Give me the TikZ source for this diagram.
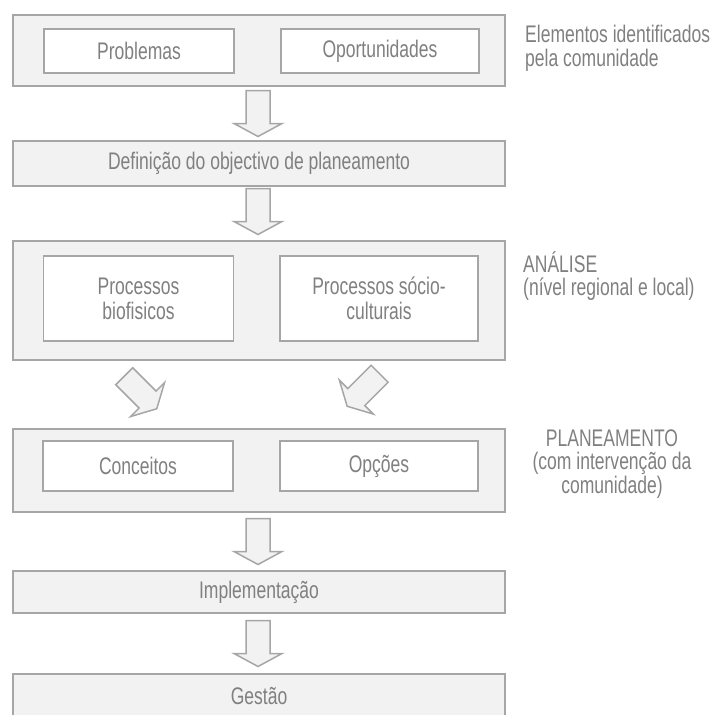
\documentclass[tikz,border=0pt]{standalone}
\usepackage{fontspec}
\setmainfont[FakeStretch=0.73]{Liberation Sans}
\usetikzlibrary{calc}
\definecolor{linec}{HTML}{A6A6A6}
\definecolor{boxfill}{HTML}{F2F2F2}
\definecolor{textc}{HTML}{808080}
\tikzset{
  base/.style={draw=linec, line width=1.5pt, inner sep=0pt, align=center,
    text=textc, font=\fontsize{24}{25}\selectfont},
  outer/.style={base, fill=boxfill},
  inner/.style={base, fill=white},
  note/.style={inner sep=0pt, text=textc, font=\fontsize{24}{23.5}\selectfont},
  arrowstyle/.style={draw=linec, fill=boxfill, line width=1.5pt, line join=miter},
  blockarrow/.pic={
    \path[arrowstyle] (-12,23) -- (12,23) -- (12,-10) -- (24,-10) -- (0,-23)
      -- (-24,-10) -- (-12,-10) -- cycle;
  }
}
\begin{document}
\begin{tikzpicture}[x=1pt, y=1pt]
  \useasboundingbox (0,0) rectangle (712,-715);
  \clip (0,0) rectangle (712,-715);

  % stage boxes
  \node[outer, minimum width=492, minimum height=71] (ident) at (259,-50.5) {};
  \node[inner, minimum width=190, minimum height=44] (prob) at (139,-51) {Problemas};
  \node[inner, minimum width=198, minimum height=44] (oport) at (380,-51) {Oportunidades};

  \node[outer, minimum width=492, minimum height=45] (obj) at (259,-163.5)
    {Definição do objectivo de planeamento};

  \node[outer, minimum width=492, minimum height=119] (anal) at (259,-300.5) {};
  \node[inner, minimum width=190, minimum height=85] (bio) at (138.5,-298.5)
    {Processos\\biofisicos};
  \node[inner, minimum width=198, minimum height=85] (socio) at (379,-298.5)
    {Processos sócio-\\culturais};

  \node[outer, minimum width=492, minimum height=83] (plan) at (259,-470.5) {};
  \node[inner, minimum width=190, minimum height=50] (conc) at (138,-466) {Conceitos};
  \node[inner, minimum width=198, minimum height=50] (opc) at (379,-466) {Opções};

  \node[outer, minimum width=492, minimum height=42] (impl) at (259,-592) {Implementação};
  \node[outer, minimum width=492, minimum height=44] (gest) at (259,-696) {Gestão};

  % side notes
  \node[note, anchor=west, align=left] (n1) at (525,-48.5)
    {Elementos identificados\\pela comunidade};
  \node[note, anchor=west, align=left] (n2) at (523,-276)
    {ANÁLISE\\(nível regional e local)};
  \node[note, align=center] (n3) at (612,-464)
    {PLANEAMENTO\\(com intervenção da\\comunidade)};

  % block arrows between stages
  \pic at ($(ident.south)!0.5!(obj.north)+(-1,0)$) {blockarrow};
  \pic at ($(obj.south)!0.5!(anal.north)+(-1,2)$) {blockarrow};
  \pic at ($(plan.south)!0.5!(impl.north)+(-1,0)$) {blockarrow};
  \pic at ($(impl.south)!0.5!(gest.north)+(-1,0)$) {blockarrow};
  \pic[rotate=45] at ($(anal.south)!0.5!(plan.north)+(-118.5,2)$) {blockarrow};
  \pic[rotate=-45] at ($(anal.south)!0.5!(plan.north)+(104.4,4.5)$) {blockarrow};
\end{tikzpicture}
\end{document}
